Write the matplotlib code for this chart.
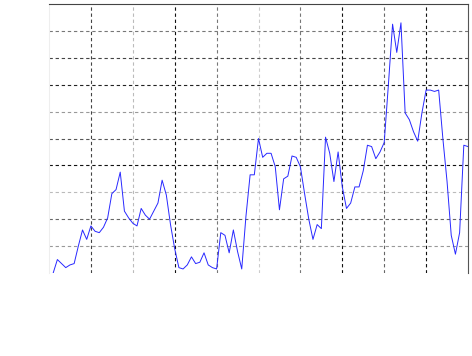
import numpy as np
import matplotlib
matplotlib.use('Agg')
from matplotlib import pyplot as plt

# series (x = 1..100)
x_values = list(range(1, 101))
y_values = [
    0.0, 0.5, 0.35, 0.2, 0.3, 0.35, 1.0, 1.6, 1.25, 1.75,
    1.55, 1.5, 1.7, 2.05, 2.95, 3.1, 3.75, 2.3, 2.05, 1.85,
    1.75, 2.4, 2.15, 2.0, 2.3, 2.6, 3.45, 2.9, 1.8, 0.9,
    0.2, 0.15, 0.3, 0.6, 0.35, 0.4, 0.75, 0.3, 0.2, 0.15,
    1.5, 1.4, 0.75, 1.6, 0.8, 0.15, 2.1, 3.65, 3.65, 5.0,
    4.3, 4.45, 4.45, 3.95, 2.35, 3.5, 3.6, 4.35, 4.3, 3.95,
    2.95, 2.0, 1.25, 1.8, 1.65, 5.05, 4.45, 3.4, 4.5, 3.2,
    2.4, 2.6, 3.2, 3.2, 3.8, 4.75, 4.7, 4.25, 4.5, 4.85,
    7.0, 9.25, 8.2, 9.3, 5.95, 5.7, 5.25, 4.9, 5.95, 6.8,
    6.8, 6.75, 6.8, 5.0, 3.4, 1.4, 0.7, 1.5, 4.75, 4.7,
]

x_ticks = list(range(10, 100, 10))
y_ticks = list(range(1, 10))

# grid line greys, as they come out in the reference
x_grid_colors = ['#444444', '#bbbbbb', '#111111', '#777777',
                 '#cccccc', '#777777', '#111111', '#666666', '#111111']
y_grid_colors = ['#999999', '#666666', '#bbbbbb', '#111111',
                 '#555555', '#999999', '#222222', '#444444', '#777777']

fig = plt.figure(figsize=(4.72, 3.56), dpi=100)
ax = fig.add_axes([49/472, 1 - 273/356, (468 - 49)/472, (273 - 4)/356])

ax.plot(x_values, y_values, color='#2828ff', lw=0.7)

ax.set_xlim(0, 100)
ax.set_ylim(0, 10)
ax.set_xticks(x_ticks)
ax.set_yticks(y_ticks)
ax.tick_params(length=0, labelbottom=False, labelleft=False)

#dashed grid, each line its own grey
ax.grid(True, linestyle=(0, (3, 2.5)), linewidth=0.8)
for line, col in zip(ax.get_xgridlines(), x_grid_colors):
    line.set_color(col)
for line, col in zip(ax.get_ygridlines(), y_grid_colors):
    line.set_color(col)
ax.set_axisbelow(True)

ax.spines['top'].set_color('#444444')
ax.spines['right'].set_color('#555555')
ax.spines['left'].set_color('#eeeeee')
ax.spines['bottom'].set_visible(False)
for s in ax.spines.values():
    s.set_linewidth(0.8)

plt.savefig('out.png', dpi=100)
plt.close()
